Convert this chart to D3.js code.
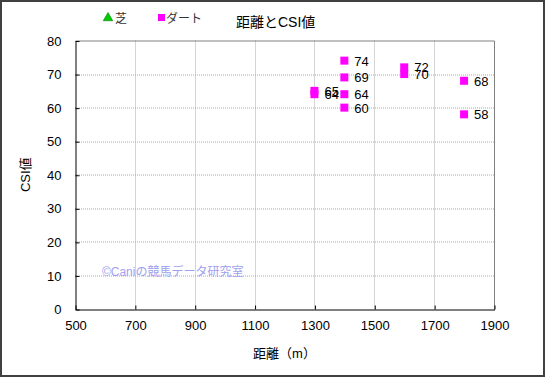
<!DOCTYPE html>
<html>
<head>
<meta charset="utf-8">
<script src="https://cdn.jsdelivr.net/npm/d3@7"></script>
<style>
  body { margin: 0; background: #fff; }
  text { font-family: "Liberation Sans", "Noto Sans CJK JP", sans-serif; }
</style>
</head>
<body>
<div id="content"></div>
<script>
// Data.
var dirtDist = [1300, 1300, 1400, 1400, 1400, 1400, 1600, 1600, 1800, 1800];
var dirtCsi  = [65, 64, 74, 69, 64, 60, 72, 70, 68, 58];
var turfDist = [];
var turfCsi  = [];
var xTicks = [500, 700, 900, 1100, 1300, 1500, 1700, 1900];
var yTicks = [0, 10, 20, 30, 40, 50, 60, 70, 80];

var W = 545, H = 377;
var margin = {left : 75, right : 51, top : 40.5, bottom : 68};
var width = W - margin.left - margin.right;
var height = H - margin.top - margin.bottom;

var svg = d3.select('#content').append('svg')
    .attr('width', W).attr('height', H);

// Outer frame.
svg.append('rect')
    .attr('x', 1).attr('y', 1).attr('width', W - 2).attr('height', H - 2)
    .attr('fill', '#fff').attr('stroke', '#404040').attr('stroke-width', 2);

var g = svg.append('g')
    .attr('transform', 'translate(' + margin.left + ',' + margin.top + ')');

var scaleX = d3.scaleLinear().domain([500, 1900]).range([0, width]);
var scaleY = d3.scaleLinear().domain([0, 80]).range([height, 0]);

// Grid.
g.selectAll('.vgrid').data(xTicks.slice(1, -1)).enter().append('line')
    .attr('x1', function(d) { return Math.round(scaleX(d)) + 0.5; })
    .attr('x2', function(d) { return Math.round(scaleX(d)) + 0.5; })
    .attr('y1', 0).attr('y2', height)
    .attr('stroke', '#aaa').attr('stroke-dasharray', '1,1');
g.selectAll('.hgrid').data(yTicks.slice(1, -1)).enter().append('line')
    .attr('y1', function(d) { return Math.round(scaleY(d)) + 0.5; })
    .attr('y2', function(d) { return Math.round(scaleY(d)) + 0.5; })
    .attr('x1', 0).attr('x2', width)
    .attr('stroke', '#aaa').attr('stroke-dasharray', '1,1');

// Plot border: grey top/right, black axes.
g.append('path')
    .attr('d', 'M0.5,0.5H' + (width + 0.5) + 'V' + (height + 0.5))
    .attr('fill', 'none').attr('stroke', '#808080');

var xAxis = g.append('g')
    .attr('transform', 'translate(0.5,' + (height + 0.5) + ')')
    .call(d3.axisBottom(scaleX).tickValues(xTicks).tickFormat(d3.format('d'))
          .tickSizeInner(-4).tickSizeOuter(0).tickPadding(11));
var yAxis = g.append('g')
    .attr('transform', 'translate(0.5,0.5)')
    .call(d3.axisLeft(scaleY).tickValues(yTicks).tickSizeInner(-4)
          .tickSizeOuter(0).tickPadding(14));
[xAxis, yAxis].forEach(function(a) {
  a.select('.domain').attr('stroke', '#000');
  a.selectAll('.tick line').attr('stroke', '#000');
  a.selectAll('.tick text').attr('font-size', 13).attr('fill', '#000')
      .attr('font-family', '"Liberation Sans", sans-serif');
});

// Watermark.
g.append('text')
    .attr('x', scaleX(590)).attr('y', scaleY(9.8))
    .attr('font-size', 12).attr('fill', '#a0a0f0')
    .text('©Caniの競馬データ研究室');

// Points.
var dirt = dirtDist.map(function(d, i) { return {x : d, y : dirtCsi[i]}; });
g.selectAll('.pt').data(dirt).enter().append('rect')
    .attr('x', function(d) { return scaleX(d.x) - 4; })
    .attr('y', function(d) { return scaleY(d.y) - 4; })
    .attr('width', 8).attr('height', 8)
    .attr('fill', '#ff00ff');
g.selectAll('.lbl').data(dirt).enter().append('text')
    .attr('x', function(d) { return scaleX(d.x) + 10; })
    .attr('y', function(d) { return scaleY(d.y) + 5; })
    .attr('font-size', 13).attr('fill', '#000')
    .text(function(d) { return d.y; });

// Legend and title.
svg.append('path')
    .attr('d', d3.symbol().type(d3.symbolTriangle).size(40)())
    .attr('transform', 'translate(108,18)').attr('fill', '#00cc00')
    .attr('stroke', '#006600').attr('stroke-width', 0.5);
svg.append('text').attr('x', 115).attr('y', 23)
    .attr('font-size', 12).attr('fill', '#333').text('芝');
svg.append('rect').attr('x', 158).attr('y', 14).attr('width', 7)
    .attr('height', 7).attr('fill', '#ff00ff');
svg.append('text').attr('x', 166).attr('y', 23)
    .attr('font-size', 12).attr('fill', '#333').text('ダート');
svg.append('text').attr('x', 236).attr('y', 27)
    .attr('font-size', 14).attr('fill', '#000').text('距離とCSI値');

// Axis titles.
svg.append('text')
    .attr('x', margin.left + width / 2).attr('y', 358)
    .attr('text-anchor', 'middle').attr('font-size', 13).text('距離（m）');
svg.append('text')
    .attr('transform', 'translate(30,' + (margin.top + height / 2) + ') rotate(-90)')
    .attr('text-anchor', 'middle').attr('font-size', 13).text('CSI値');
</script>
</body>
</html>
